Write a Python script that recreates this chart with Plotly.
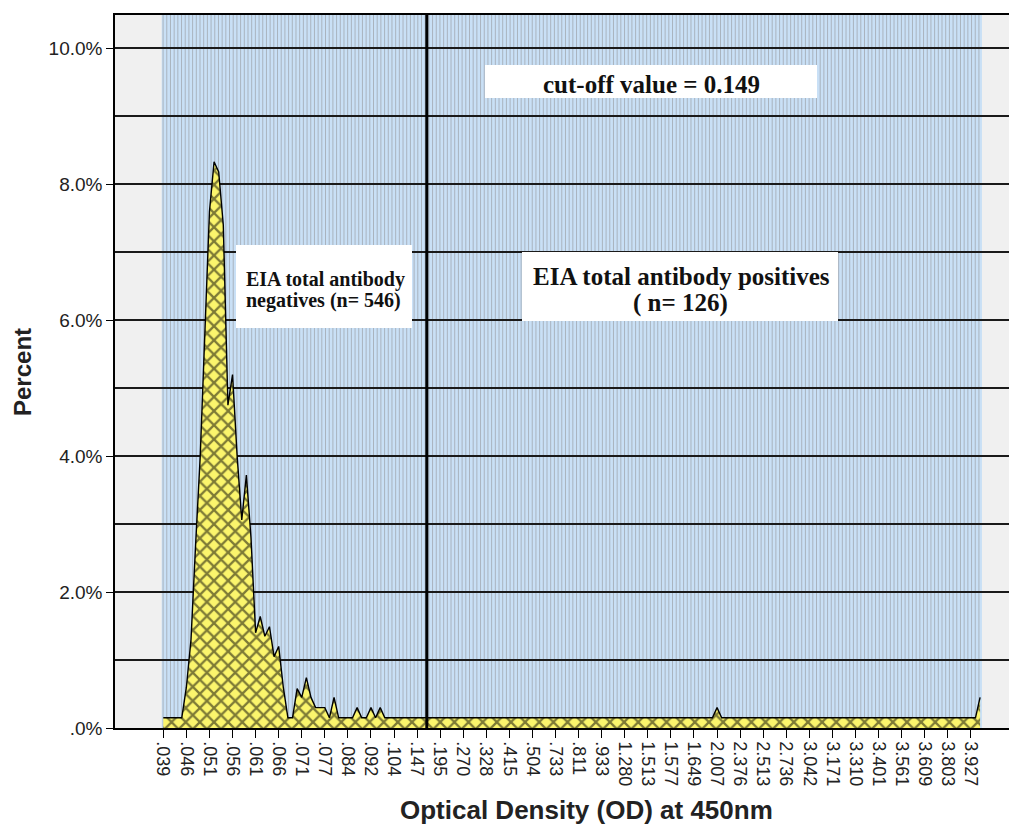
import plotly.graph_objects as go

# ---------------- data ----------------
tick_labels = [".039", ".046", ".051", ".056", ".061", ".066", ".071", ".077", ".084",
               ".092", ".104", ".147", ".195", ".270", ".328", ".415", ".504", ".733",
               ".811", ".933", "1.280", "1.513", "1.577", "1.649", "2.007", "2.376",
               "2.513", "2.736", "3.042", "3.171", "3.310", "3.401", "3.561", "3.609",
               "3.803", "3.927"]
tick_positions = [0, 5, 10, 15, 20, 25, 30, 35, 40, 45, 50, 55, 60, 65, 70, 75, 80, 85,
                  90, 95, 100, 105, 110, 115, 120, 125, 130, 135, 140, 145, 150, 155,
                  160, 165, 170, 175]

# percent of samples per OD category (category index 0..177)
percent = [
    0.15, 0.15, 0.15, 0.15, 0.15, 0.60, 1.30, 2.70, 4.00, 5.80,   # 0-9
    7.60, 8.33, 8.18, 7.40, 4.75, 5.20, 4.00, 3.06, 3.72, 2.80,   # 10-19
    1.40, 1.64, 1.35, 1.49, 1.05, 1.20, 0.60, 0.15, 0.15, 0.58,   # 20-29
    0.45, 0.74, 0.45, 0.30, 0.30, 0.30, 0.15, 0.45, 0.15, 0.15,   # 30-39
    0.15, 0.15, 0.30, 0.15, 0.15, 0.30, 0.15, 0.30, 0.15, 0.15,   # 40-49
    0.15, 0.15, 0.15, 0.15, 0.15, 0.15, 0.15, 0.15, 0.15, 0.15,   # 50-59
    0.15, 0.15, 0.15, 0.15, 0.15, 0.15, 0.15, 0.15, 0.15, 0.15,   # 60-69
    0.15, 0.15, 0.15, 0.15, 0.15, 0.15, 0.15, 0.15, 0.15, 0.15,   # 70-79
    0.15, 0.15, 0.15, 0.15, 0.15, 0.15, 0.15, 0.15, 0.15, 0.15,   # 80-89
    0.15, 0.15, 0.15, 0.15, 0.15, 0.15, 0.15, 0.15, 0.15, 0.15,   # 90-99
    0.15, 0.15, 0.15, 0.15, 0.15, 0.15, 0.15, 0.15, 0.15, 0.15,   # 100-109
    0.15, 0.15, 0.15, 0.15, 0.15, 0.15, 0.15, 0.15, 0.15, 0.15,   # 110-119
    0.30, 0.15, 0.15, 0.15, 0.15, 0.15, 0.15, 0.15, 0.15, 0.15,   # 120-129
    0.15, 0.15, 0.15, 0.15, 0.15, 0.15, 0.15, 0.15, 0.15, 0.15,   # 130-139
    0.15, 0.15, 0.15, 0.15, 0.15, 0.15, 0.15, 0.15, 0.15, 0.15,   # 140-149
    0.15, 0.15, 0.15, 0.15, 0.15, 0.15, 0.15, 0.15, 0.15, 0.15,   # 150-159
    0.15, 0.15, 0.15, 0.15, 0.15, 0.15, 0.15, 0.15, 0.15, 0.15,   # 160-169
    0.15, 0.15, 0.15, 0.15, 0.15, 0.15, 0.15, 0.45,               # 170-177
]
categories = list(range(len(percent)))

cutoff_position = 57.1
y_tick_values = [0, 2, 4, 6, 8, 10]
y_tick_text = [".0%", "2.0%", "4.0%", "6.0%", "8.0%", "10.0%"]
y_minor_values = [1, 3, 5, 7, 9]

# ---------------- layout geometry ----------------
OFF = 8                      # page body margin
W, H = 1017 - OFF, 825 - OFF
L, R, T, B = 115 - OFF, 1017 - OFF, 15 - OFF, 728 - OFF


def px(xpix):                # reference pixel -> paper x
    return (xpix - OFF - L) / (R - L)


def py(ypix):                # reference pixel -> paper y
    return (B - (ypix - OFF)) / (B - T)


fig = go.Figure()

fig.add_trace(go.Scatter(
    x=categories, y=percent, mode="lines",
    line=dict(color="black", width=1.4),
    fill="tozeroy",
    fillcolor="#fbf56c",
    fillpattern=dict(shape="x", bgcolor="#fbf56c", fgcolor="#000000",
                     size=10, solidity=0.4),
    hoverinfo="skip", showlegend=False,
))

shapes = []
# striped blue background behind the categories
shapes.append(dict(type="rect", xref="x", yref="paper", x0=-0.35, x1=177.4, y0=0, y1=1,
                   fillcolor="#c9e0f6", line=dict(width=0), layer="below"))
xs = -0.05
while xs < 177.3:
    shapes.append(dict(type="line", xref="x", yref="paper", x0=xs, x1=xs, y0=0, y1=1,
                       line=dict(color="#a9b3be", width=1.0), layer="below"))
    xs += 0.8

# cut-off line
shapes.append(dict(type="line", xref="x", yref="paper", x0=cutoff_position,
                   x1=cutoff_position, y0=0, y1=1,
                   line=dict(color="black", width=3), layer="above"))

# white label boxes (reference pixel coords)
boxes = [(485, 65, 817, 98), (236, 245, 412, 328), (522, 252, 838, 321)]
for x0, y0, x1, y1 in boxes:
    shapes.append(dict(type="rect", xref="paper", yref="paper",
                       x0=px(x0), x1=px(x1), y0=py(y1), y1=py(y0),
                       fillcolor="white", line=dict(width=0), layer="above"))

serif = "Liberation Serif, Times New Roman, serif"
sans = "Liberation Sans, Arial, sans-serif"
annotations = [
    dict(text="<b>cut-off value = 0.149</b>", x=px(651), y=py(84), xanchor="center",
         yanchor="middle", font=dict(family=serif, size=25, color="#111")),
    dict(text="<b>EIA total antibody</b>", x=px(244), y=py(279), xanchor="left",
         yanchor="middle", font=dict(family=serif, size=20, color="#111")),
    dict(text="<b>negatives (n= 546)</b>", x=px(244), y=py(300), xanchor="left",
         yanchor="middle", font=dict(family=serif, size=20, color="#111")),
    dict(text="<b>EIA total antibody positives</b>", x=px(681), y=py(276),
         xanchor="center", yanchor="middle", font=dict(family=serif, size=25, color="#111")),
    dict(text="<b>( n= 126)</b>", x=px(680), y=py(303), xanchor="center",
         yanchor="middle", font=dict(family=serif, size=25, color="#111")),
    dict(text="<b>Optical Density (OD) at 450nm</b>", x=px(586), y=py(810),
         xanchor="center", yanchor="middle",
         font=dict(family=sans, size=26, color="#222")),
    dict(text="<b>Percent</b>", x=px(22), y=py(372), xanchor="center",
         yanchor="middle", textangle=-90,
         font=dict(family=sans, size=24, color="#222")),
]
for a in annotations:
    a.update(xref="paper", yref="paper", showarrow=False)

fig.update_layout(
    width=W, height=H,
    margin=dict(l=L, r=W - R, t=T, b=H - B, pad=0),
    paper_bgcolor="white",
    plot_bgcolor="#f0f0f0",
    shapes=shapes,
    annotations=annotations,
    font=dict(family=sans, color="#222"),
    xaxis=dict(
        range=[-10.47, 185.0],
        tickmode="array", tickvals=tick_positions, ticktext=tick_labels,
        tickangle=90, tickfont=dict(size=18, color="#222"),
        ticks="outside", ticklen=8, tickwidth=1.3, tickcolor="black",
        showgrid=False, zeroline=False,
        showline=True, linecolor="black", linewidth=1.5, mirror=True,
    ),
    yaxis=dict(
        range=[0, 10.49],
        tickmode="array", tickvals=y_tick_values, ticktext=y_tick_text,
        tickfont=dict(size=19, color="#222"),
        ticks="outside", ticklen=7, tickwidth=1.3, tickcolor="black",
        showgrid=True, gridcolor="#1a1a1a", gridwidth=2,
        minor=dict(tickvals=y_minor_values, showgrid=True, gridcolor="#1a1a1a",
                   gridwidth=2, ticks=""),
        zeroline=False,
        showline=True, linecolor="black", linewidth=1.5,
    ),
)

fig.write_html("out.html")
